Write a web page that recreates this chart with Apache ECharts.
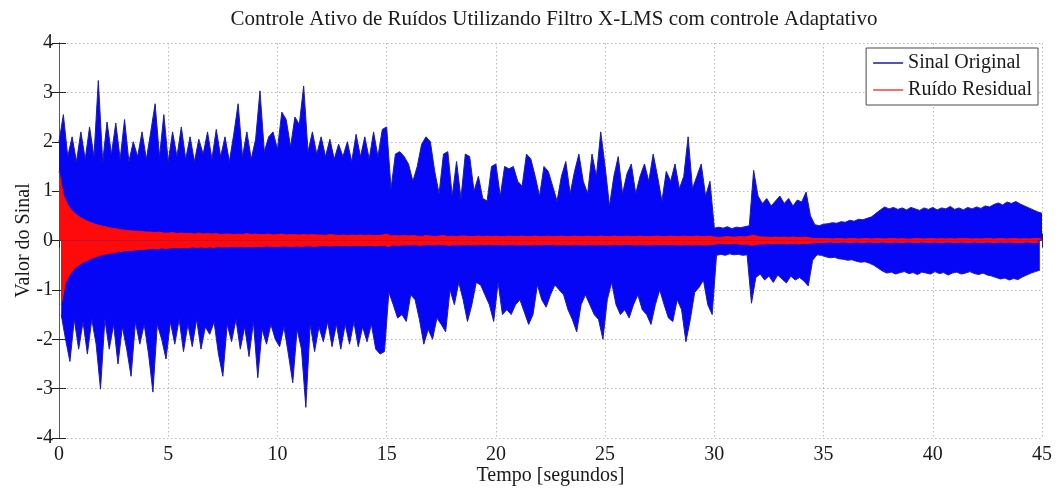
<!DOCTYPE html>
<html>
<head>
<meta charset="utf-8">
<script src="https://cdn.jsdelivr.net/npm/echarts@6/dist/echarts.min.js"></script>
<style>
  html, body { margin: 0; padding: 0; background: #fff; }
  #chart { width: 1063px; height: 491px; }
</style>
</head>
<body>
<div id="chart"></div>
<script>
// Peak values of the signals. Positive peaks are sampled every 0.2 s from t = 0,
// negative peaks every 0.2 s from t = 0.1 (one row per second).
const sampleStep = 0.2;

const originalPeaksUp = [
  2.0, 2.55, 1.7, 2.1, 1.6,
  2.2, 1.65, 2.3, 1.7, 3.24,
  1.6, 2.4, 1.75, 2.38, 1.65,
  2.45, 1.6, 2.0, 1.7, 2.2,
  1.65, 2.2, 2.77, 1.7, 2.55,
  1.6, 2.2, 1.7, 2.3, 1.65,
  2.1, 1.6, 2.05, 1.75, 2.2,
  1.65, 2.25, 1.7, 2.1, 1.6,
  2.15, 2.77, 1.7, 2.2, 1.65,
  2.05, 3.03, 1.8, 2.1, 2.2,
  1.85, 2.6, 2.45, 1.9, 2.5,
  2.35, 3.13, 1.8, 2.2, 1.75,
  2.1, 1.7, 2.05, 1.65, 1.95,
  1.7, 2.0, 1.6, 2.15, 1.7,
  2.1, 1.65, 2.2, 1.7, 2.25,
  2.3, 1.05, 1.75, 1.8, 1.7,
  1.55, 1.2, 1.5, 1.95, 2.1,
  2.0, 1.4, 0.95, 1.75, 1.8,
  0.9, 1.6, 0.85, 1.75, 1.7,
  1.0, 1.3, 0.85, 0.8, 1.5,
  1.55, 0.9, 1.5, 1.45, 1.5,
  1.2, 1.1, 1.75, 1.65, 1.3,
  0.9, 1.5, 1.4, 1.1, 0.8,
  1.3, 1.6, 0.95, 1.4, 1.75,
  1.2, 0.95, 1.75, 1.3, 2.2,
  1.5, 0.7, 1.3, 1.7, 0.95,
  1.35, 1.55, 0.95, 1.3, 1.55,
  1.2, 1.75, 1.3, 0.8, 1.4,
  1.2, 1.55, 1.05, 1.3, 2.1,
  1.05, 1.3, 1.55, 0.9, 1.2,
  0.25, 0.27, 0.25, 0.28, 0.24,
  0.27, 0.26, 0.28, 0.3, 1.42,
  0.9, 0.75, 0.85, 0.7, 0.8,
  0.9, 0.75, 0.85, 0.7, 0.82,
  0.78, 0.98, 0.5, 0.32, 0.3,
  0.33, 0.34, 0.36, 0.35, 0.38,
  0.37, 0.41, 0.39, 0.43, 0.42,
  0.45, 0.48, 0.55, 0.62, 0.68,
  0.64, 0.67, 0.63, 0.66, 0.62,
  0.67, 0.64, 0.61, 0.66, 0.63,
  0.67, 0.62, 0.66, 0.64, 0.69,
  0.63, 0.66, 0.62, 0.67, 0.64,
  0.68, 0.65, 0.7, 0.68, 0.73,
  0.76, 0.72, 0.78, 0.75, 0.79,
  0.74, 0.7, 0.66, 0.62, 0.58,
  0.55
];

const originalPeaksDown = [
  -1.5, -2.0, -2.45, -1.6, -2.2,
  -1.65, -2.3, -1.6, -2.1, -3.01,
  -1.6, -2.2, -1.7, -2.5, -1.75,
  -2.2, -2.75, -1.65, -2.1, -1.7,
  -2.3, -3.07, -1.7, -2.0, -2.4,
  -1.65, -2.1, -1.6, -2.25, -1.7,
  -2.15, -1.6, -2.2, -1.75, -1.9,
  -1.65, -2.3, -2.75, -1.7, -2.05,
  -1.6, -2.2, -1.75, -2.35, -1.65,
  -2.78, -1.8, -2.1, -1.7, -2.0,
  -2.15, -1.75, -2.3, -2.88, -1.8,
  -2.2, -3.38, -1.7, -2.25, -1.75,
  -2.05, -1.65, -2.15, -1.7, -2.2,
  -1.7, -2.1, -1.65, -2.15, -1.75,
  -2.05, -1.7, -2.2, -2.3, -2.25,
  -1.05, -1.3, -1.57, -1.5, -1.64,
  -1.1, -1.2, -1.6, -2.1, -1.8,
  -2.0, -1.57, -1.7, -1.85, -1.0,
  -1.3, -0.85, -1.2, -1.64, -1.3,
  -0.85, -0.9, -1.1, -1.3, -1.64,
  -0.85, -1.5, -1.4, -1.5, -1.3,
  -1.2, -1.45, -1.7, -1.5, -0.9,
  -1.2, -1.35, -1.1, -0.9, -1.0,
  -1.1, -1.4, -1.6, -1.85, -1.3,
  -1.1, -1.3, -1.5, -1.6, -2.0,
  -1.2, -0.85, -1.3, -1.5, -1.4,
  -1.57, -1.3, -1.1, -1.4, -1.5,
  -1.7, -1.3, -1.0, -1.3, -1.57,
  -1.64, -1.2, -1.4, -2.05, -1.6,
  -1.05, -0.95, -0.8, -1.3, -1.5,
  -0.3, -0.28, -0.3, -0.27, -0.29,
  -0.28, -0.3, -0.29, -1.27, -0.75,
  -0.68, -0.8, -0.72, -0.85, -0.7,
  -0.78, -0.86, -0.72, -0.8, -0.75,
  -0.82, -0.92, -0.4, -0.29, -0.3,
  -0.33, -0.35, -0.34, -0.37, -0.38,
  -0.4, -0.39, -0.42, -0.44, -0.43,
  -0.46, -0.5, -0.56, -0.62, -0.66,
  -0.64, -0.68, -0.65, -0.63, -0.67,
  -0.65, -0.69, -0.64, -0.66, -0.68,
  -0.63, -0.67, -0.65, -0.7, -0.66,
  -0.64, -0.68, -0.66, -0.63, -0.67,
  -0.69, -0.66, -0.7, -0.72, -0.75,
  -0.78, -0.76, -0.8, -0.77, -0.79,
  -0.74, -0.7, -0.66, -0.63, -0.6
];

const residualPeaksUp = [
  1.4, 0.92, 0.72, 0.6, 0.52,
  0.46, 0.41, 0.37, 0.34, 0.31,
  0.29, 0.27, 0.25, 0.24, 0.22,
  0.21, 0.2, 0.19, 0.19, 0.18,
  0.17, 0.17, 0.16, 0.17, 0.15,
  0.15, 0.16, 0.14, 0.15, 0.14,
  0.14, 0.13, 0.15, 0.13, 0.14,
  0.13, 0.14, 0.12, 0.13, 0.13,
  0.12, 0.13, 0.12, 0.14, 0.12,
  0.13, 0.12, 0.12, 0.13, 0.11,
  0.12, 0.13, 0.11, 0.12, 0.12,
  0.11, 0.12, 0.11, 0.12, 0.11,
  0.11, 0.1, 0.12, 0.11, 0.1,
  0.11, 0.1, 0.11, 0.1, 0.11,
  0.1, 0.11, 0.1, 0.1, 0.11,
  0.13, 0.09, 0.1, 0.09, 0.1,
  0.09, 0.1, 0.09, 0.08, 0.1,
  0.09, 0.08, 0.09, 0.1, 0.08,
  0.09, 0.08, 0.09, 0.09, 0.08,
  0.08, 0.09, 0.08, 0.09, 0.08,
  0.09, 0.08, 0.08, 0.09, 0.08,
  0.08, 0.09, 0.08, 0.08, 0.09,
  0.08, 0.08, 0.09, 0.08, 0.08,
  0.09, 0.08, 0.08, 0.09, 0.08,
  0.08, 0.09, 0.08, 0.08, 0.09,
  0.08, 0.08, 0.09, 0.08, 0.08,
  0.09, 0.08, 0.08, 0.09, 0.08,
  0.08, 0.08, 0.09, 0.08, 0.08,
  0.09, 0.08, 0.08, 0.09, 0.08,
  0.08, 0.09, 0.08, 0.08, 0.09,
  0.07, 0.06, 0.07, 0.08, 0.07,
  0.07, 0.08, 0.07, 0.09, 0.11,
  0.08, 0.07, 0.07, 0.06, 0.07,
  0.06, 0.07, 0.06, 0.07, 0.06,
  0.06, 0.07, 0.05, 0.04, 0.04,
  0.04, 0.04, 0.03, 0.04, 0.04,
  0.03, 0.04, 0.04, 0.03, 0.04,
  0.04, 0.03, 0.04, 0.04, 0.03,
  0.04, 0.04, 0.03, 0.04, 0.03,
  0.03, 0.04, 0.04, 0.03, 0.04,
  0.04, 0.03, 0.04, 0.03, 0.04,
  0.03, 0.04, 0.04, 0.04, 0.03,
  0.04, 0.03, 0.04, 0.04, 0.03,
  0.04, 0.04, 0.03, 0.04, 0.04,
  0.03, 0.04, 0.03, 0.04, 0.04,
  0.03
];

const residualPeaksDown = [
  -1.3, -0.85, -0.68, -0.57, -0.5,
  -0.44, -0.4, -0.36, -0.33, -0.3,
  -0.28, -0.26, -0.25, -0.23, -0.22,
  -0.2, -0.2, -0.19, -0.18, -0.18,
  -0.17, -0.16, -0.17, -0.15, -0.16,
  -0.15, -0.14, -0.15, -0.14, -0.15,
  -0.13, -0.14, -0.13, -0.14, -0.13,
  -0.14, -0.12, -0.13, -0.13, -0.12,
  -0.13, -0.12, -0.13, -0.12, -0.13,
  -0.12, -0.13, -0.11, -0.12, -0.12,
  -0.12, -0.11, -0.12, -0.12, -0.11,
  -0.12, -0.11, -0.11, -0.12, -0.11,
  -0.1, -0.11, -0.11, -0.1, -0.11,
  -0.1, -0.11, -0.1, -0.1, -0.11,
  -0.1, -0.1, -0.11, -0.1, -0.1,
  -0.12, -0.09, -0.1, -0.09, -0.09,
  -0.09, -0.08, -0.1, -0.09, -0.08,
  -0.09, -0.09, -0.08, -0.09, -0.1,
  -0.08, -0.09, -0.09, -0.08, -0.09,
  -0.09, -0.08, -0.09, -0.08, -0.09,
  -0.08, -0.09, -0.09, -0.08, -0.09,
  -0.09, -0.08, -0.09, -0.09, -0.08,
  -0.09, -0.08, -0.08, -0.09, -0.09,
  -0.08, -0.09, -0.09, -0.08, -0.09,
  -0.09, -0.08, -0.09, -0.09, -0.08,
  -0.09, -0.09, -0.08, -0.09, -0.08,
  -0.08, -0.09, -0.09, -0.08, -0.09,
  -0.09, -0.08, -0.09, -0.08, -0.09,
  -0.08, -0.09, -0.09, -0.08, -0.09,
  -0.09, -0.08, -0.09, -0.09, -0.08,
  -0.07, -0.06, -0.07, -0.07, -0.06,
  -0.07, -0.08, -0.07, -0.1, -0.08,
  -0.07, -0.07, -0.06, -0.07, -0.06,
  -0.06, -0.07, -0.06, -0.06, -0.07,
  -0.06, -0.06, -0.05, -0.04, -0.04,
  -0.04, -0.03, -0.04, -0.04, -0.03,
  -0.04, -0.04, -0.03, -0.04, -0.04,
  -0.03, -0.04, -0.04, -0.03, -0.04,
  -0.04, -0.03, -0.04, -0.04, -0.03,
  -0.04, -0.04, -0.03, -0.04, -0.04,
  -0.03, -0.04, -0.04, -0.03, -0.04,
  -0.04, -0.03, -0.04, -0.04, -0.03,
  -0.04, -0.04, -0.03, -0.04, -0.04,
  -0.03, -0.04, -0.03, -0.04, -0.04,
  -0.04, -0.03, -0.04, -0.04, -0.03
];

const xTicks = [0, 5, 10, 15, 20, 25, 30, 35, 40, 45];
const yTicks = [-4, -3, -2, -1, 0, 1, 2, 3, 4];

// Attach sample times to a list of peaks.
function timed(peaks, offset) {
  return peaks.map((v, i) => [+(i * sampleStep + offset).toFixed(2), v]);
}

const FONT = '"Liberation Serif", "Times New Roman", serif';
const gridLine = { show: true, lineStyle: { color: '#b8b8b8', type: [1.5, 2.5], width: 1 } };
const frame = { show: true, lineStyle: { color: '#5a5a5a', width: 1 } };
const innerTick = { show: true, inside: true, length: 7, lineStyle: { color: '#222' } };

// One filled envelope band (peaks filled towards zero).
function band(name, data, fill, edge, z) {
  return {
    name, type: 'line', data,
    showSymbol: false, symbol: 'none',
    lineStyle: { color: edge, width: 1 },
    areaStyle: { color: fill, opacity: 1, origin: 'auto' },
    itemStyle: { color: edge },
    z
  };
}

const chart = echarts.init(document.getElementById('chart'), null, { renderer: 'canvas' });
chart.setOption({
  animation: false,
  backgroundColor: '#ffffff',
  title: {
    text: 'Controle Ativo de Ruídos Utilizando Filtro X-LMS com controle Adaptativo',
    left: 549,
    top: 4,
    textAlign: 'center',
    textStyle: { fontFamily: FONT, fontSize: 21, fontWeight: 'normal', color: '#1a1a1a' }
  },
  legend: {
    orient: 'vertical',
    right: 25,
    top: 48,
    backgroundColor: '#ffffff',
    borderColor: '#4a4a4a',
    borderWidth: 1,
    padding: [5, 6, 5, 7],
    itemGap: 7,
    itemWidth: 30,
    itemHeight: 1.5,
    textStyle: { fontFamily: FONT, fontSize: 20, lineHeight: 20, color: '#1a1a1a' },
    data: [
      { name: 'Sinal Original', icon: 'rect', itemStyle: { color: '#1a1aa0' } },
      { name: 'Ruído Residual', icon: 'rect', itemStyle: { color: '#f04040' } }
    ]
  },
  grid: { left: 59, right: 21, top: 43, bottom: 52, containLabel: false },
  xAxis: [
    {
      type: 'value', min: xTicks[0], max: xTicks[xTicks.length - 1], interval: 5,
      name: 'Tempo [segundos]', nameLocation: 'middle', nameGap: 28, nameMoveOverlap: false,
      nameTextStyle: { fontFamily: FONT, fontSize: 20, color: '#1a1a1a' },
      axisLine: frame, axisTick: innerTick,
      axisLabel: { fontFamily: FONT, fontSize: 20, color: '#1a1a1a', margin: 7 },
      splitLine: gridLine
    },
    {
      type: 'value', position: 'top', min: xTicks[0], max: xTicks[xTicks.length - 1], interval: 5,
      axisLine: frame, axisTick: innerTick,
      axisLabel: { show: false }, splitLine: { show: false }
    }
  ],
  yAxis: [
    {
      type: 'value', min: yTicks[0], max: yTicks[yTicks.length - 1], interval: 1,
      name: 'Valor do Sinal', nameLocation: 'middle', nameGap: 25, nameMoveOverlap: false,
      nameTextStyle: { fontFamily: FONT, fontSize: 20, color: '#1a1a1a' },
      axisLine: frame, axisTick: innerTick,
      axisLabel: { fontFamily: FONT, fontSize: 20, color: '#1a1a1a', margin: 6 },
      splitLine: gridLine
    },
    {
      type: 'value', position: 'right', min: yTicks[0], max: yTicks[yTicks.length - 1], interval: 1,
      axisLine: frame, axisTick: innerTick,
      axisLabel: { show: false }, splitLine: { show: false }
    }
  ],
  series: [
    band('Sinal Original', timed(originalPeaksUp, 0), '#0606f6', '#1c1ca8', 2),
    band('Sinal Original', timed(originalPeaksDown, sampleStep / 2), '#0606f6', '#1c1ca8', 2),
    band('Ruído Residual', timed(residualPeaksUp, 0), '#ff0a0a', '#ff0a0a', 3),
    band('Ruído Residual', timed(residualPeaksDown, sampleStep / 2), '#ff0a0a', '#ff0a0a', 3)
  ]
});
</script>
</body>
</html>
